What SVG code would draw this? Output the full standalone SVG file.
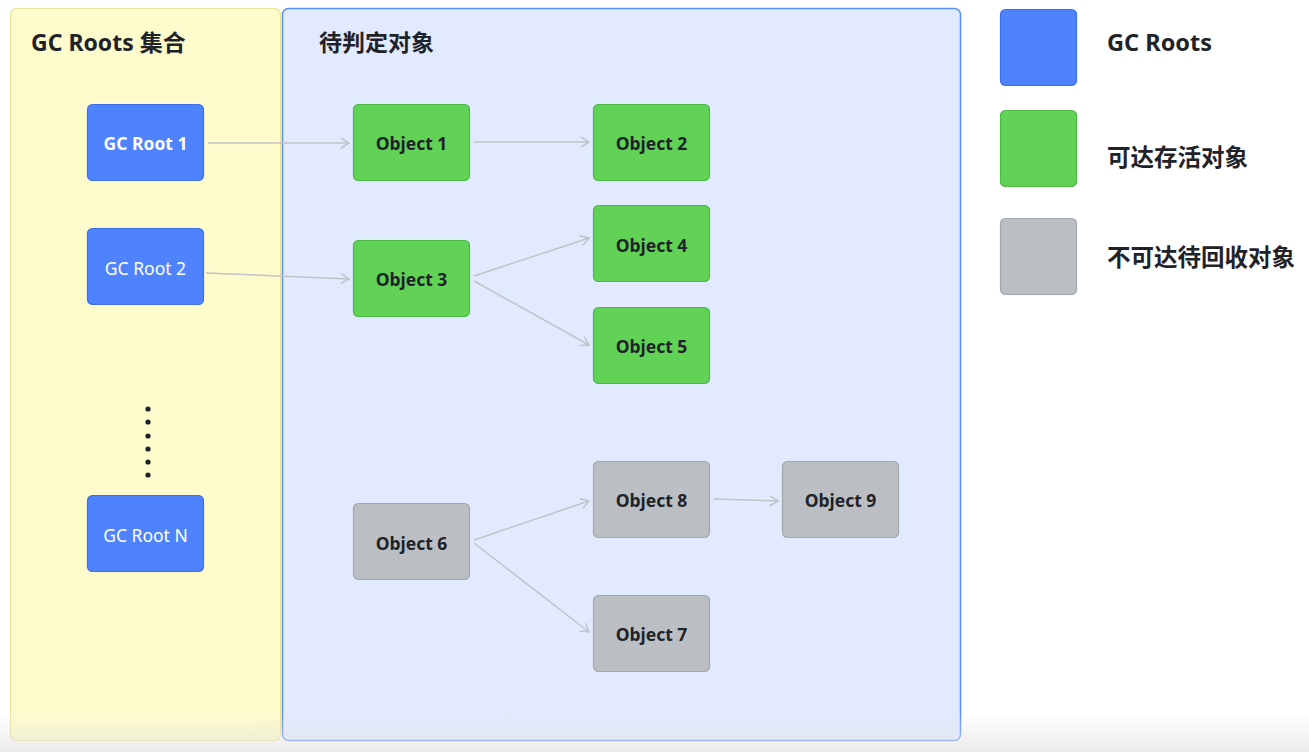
<svg xmlns="http://www.w3.org/2000/svg" width="1309" height="752" viewBox="0 0 1309 752">
<defs>
<marker id="arr" markerWidth="12" markerHeight="12" refX="10" refY="6" orient="auto" markerUnits="userSpaceOnUse">
<path d="M2,1 L10,6 L2,11" fill="none" stroke="#c0c3c8" stroke-width="1.5"/>
</marker>
<linearGradient id="fade" x1="0" y1="0" x2="0" y2="1">
<stop offset="0" stop-color="#e5e5e5" stop-opacity="0"/>
<stop offset="1" stop-color="#e2e2e2" stop-opacity="1"/>
</linearGradient>
<style>
.t{font-family:"Noto Sans","Noto Sans CJK SC",sans-serif;}
.nt{font-size:17.5px;text-anchor:middle;dominant-baseline:central;}
.b{font-weight:bold;}
.blue rect{fill:#4e83fd;stroke:#3d6fe6;stroke-width:1.2;}
.green rect{fill:#62d256;stroke:#4db844;stroke-width:1.2;}
.gray rect{fill:#bbbfc4;stroke:#a3a7ac;stroke-width:1.2;}
.blue text.nt{fill:#ffffff;}
.green text,.gray text{fill:#1f2329;font-weight:bold;}
.conn line{stroke:#c0c3c8;stroke-width:1.5;marker-end:url(#arr);}
.lg{font-size:23.5px;font-weight:bold;fill:#1f2329;}
</style>
</defs>
<rect width="1309" height="752" fill="#ffffff"/>
<g id="panel-roots">
<rect x="10.5" y="8.5" width="270" height="732" rx="6" fill="#fefccc" stroke="#e9e29a" stroke-width="1.2"/>
<text class="t b" x="31" y="51" font-size="23" fill="#1f2329">GC Roots 集合</text>
</g>
<g id="panel-objects">
<rect x="282.5" y="8.5" width="678" height="732" rx="6" fill="#e1eaff" stroke="#5b8ff9" stroke-width="1.5"/>
<text class="t b" x="319" y="51" font-size="23" fill="#1f2329">待判定对象</text>
</g>
<g id="conns" class="conn">
<line x1="208" y1="143" x2="349" y2="143"/>
<line x1="206" y1="273" x2="349" y2="279"/>
<line x1="474" y1="142" x2="589" y2="142"/>
<line x1="474" y1="276" x2="589" y2="238"/>
<line x1="474" y1="281" x2="589" y2="345"/>
<line x1="474" y1="540" x2="589" y2="501"/>
<line x1="474" y1="543" x2="589" y2="632"/>
<line x1="714" y1="499" x2="778" y2="501"/>
</g>
<g id="gcroot1" class="blue"><rect x="87.5" y="104.5" width="116" height="76" rx="5"/><text class="t nt b" x="145.5" y="143">GC Root 1</text></g>
<g id="gcroot2" class="blue"><rect x="87.5" y="228.5" width="116" height="76" rx="5"/><text class="t nt" x="145.5" y="268">GC Root 2</text></g>
<g id="dots" fill="#1f2329">
<circle cx="148" cy="409" r="2.6"/><circle cx="148" cy="422" r="2.6"/><circle cx="148" cy="436" r="2.6"/><circle cx="148" cy="449" r="2.6"/><circle cx="148" cy="462" r="2.6"/><circle cx="148" cy="475" r="2.6"/>
</g>
<g id="gcrootN" class="blue"><rect x="87.5" y="495.5" width="116" height="76" rx="5"/><text class="t nt" x="145.5" y="535">GC Root N</text></g>
<g id="obj1" class="green"><rect x="353.5" y="104.5" width="116" height="76" rx="5"/><text class="t nt" x="411.5" y="143">Object 1</text></g>
<g id="obj2" class="green"><rect x="593.5" y="104.5" width="116" height="76" rx="5"/><text class="t nt" x="651.5" y="143">Object 2</text></g>
<g id="obj3" class="green"><rect x="353.5" y="240.5" width="116" height="76" rx="5"/><text class="t nt" x="411.5" y="279">Object 3</text></g>
<g id="obj4" class="green"><rect x="593.5" y="205.5" width="116" height="76" rx="5"/><text class="t nt" x="651.5" y="245">Object 4</text></g>
<g id="obj5" class="green"><rect x="593.5" y="307.5" width="116" height="76" rx="5"/><text class="t nt" x="651.5" y="346">Object 5</text></g>
<g id="obj6" class="gray"><rect x="353.5" y="503.5" width="116" height="76" rx="5"/><text class="t nt" x="411.5" y="543">Object 6</text></g>
<g id="obj8" class="gray"><rect x="593.5" y="461.5" width="116" height="76" rx="5"/><text class="t nt" x="651.5" y="500">Object 8</text></g>
<g id="obj9" class="gray"><rect x="782.5" y="461.5" width="116" height="76" rx="5"/><text class="t nt" x="840.5" y="500">Object 9</text></g>
<g id="obj7" class="gray"><rect x="593.5" y="595.5" width="116" height="76" rx="5"/><text class="t nt" x="651.5" y="634">Object 7</text></g>
<g id="legend-roots"><rect x="1000.5" y="9.5" width="76" height="76" rx="5" fill="#4e83fd" stroke="#3d6fe6" stroke-width="1.2"/><text class="t lg" x="1107" y="51">GC Roots</text></g>
<g id="legend-alive"><rect x="1000.5" y="110.5" width="76" height="76" rx="5" fill="#62d256" stroke="#4db844" stroke-width="1.2"/><text class="t lg" x="1107" y="166">可达存活对象</text></g>
<g id="legend-dead"><rect x="1000.5" y="218.5" width="76" height="76" rx="5" fill="#bbbfc4" stroke="#a3a7ac" stroke-width="1.2"/><text class="t lg" x="1107" y="266">不可达待回收对象</text></g>
<rect x="0" y="712" width="1309" height="40" fill="url(#fade)" opacity="0.7"/>
</svg>
